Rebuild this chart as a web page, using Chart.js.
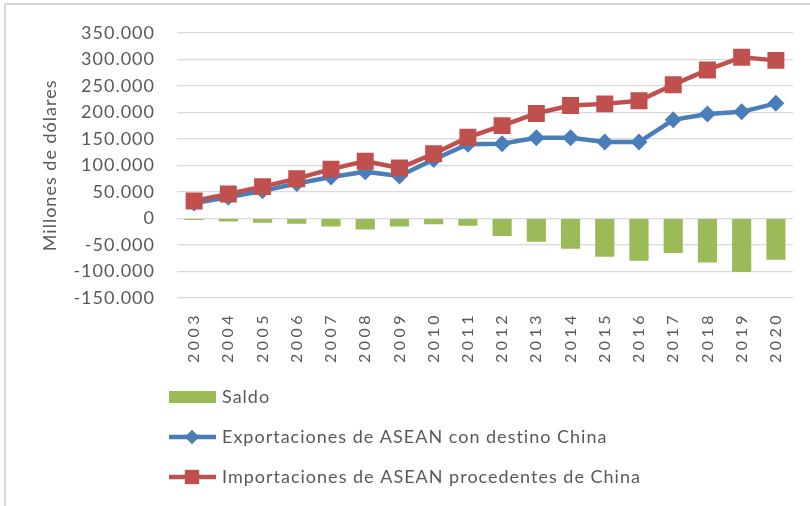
<!DOCTYPE html>
<html>
<head>
<meta charset="utf-8">
<script src="https://cdn.jsdelivr.net/npm/chart.js@4/dist/chart.umd.min.js"></script>
<style>
  html, body { margin: 0; padding: 0; background: #fff; }
  #wrap { width: 810px; height: 506px; position: relative; }
</style>
</head>
<body>
<div id="wrap"><canvas id="asean_chart" width="810" height="506"></canvas></div>
<script>
// years on the category axis
var years = ["2003","2004","2005","2006","2007","2008","2009","2010","2011",
             "2012","2013","2014","2015","2016","2017","2018","2019","2020"];

// values in millions of dollars
var saldo = [-3000, -6000, -8000, -10000, -15000, -21000, -15000, -11000, -14000,
             -33000, -44000, -57000, -72000, -80000, -65000, -83000, -101000, -78000];
var exportaciones = [29000, 40000, 52000, 66000, 78000, 88000, 80000, 111000, 140000,
                     141000, 152000, 152000, 144000, 144000, 186000, 197000, 201000, 217000];
var importaciones = [33000, 46000, 60000, 75000, 93000, 108000, 95000, 122000, 153000,
                     175000, 198000, 213000, 216000, 222000, 252000, 280000, 304000, 298000];

var y_min = -150000;
var y_max = 350000;
var y_step = 50000;

var text_color = "#595959";
var font_family = "Lato, 'Open Sans', sans-serif";

function fmt_miles(v){
	var s = Math.abs(v).toString().replace(/\B(?=(\d{3})+(?!\d))/g, ".");
	return (v < 0 ? "-" : "") + s;
}

// frame round the picture (left and top edges show)
var framePlugin = {
	id: "frame",
	beforeDraw: function(chart){
		var ctx = chart.ctx;
		ctx.fillStyle = "#fff";
		ctx.fillRect(0, 0, chart.width, chart.height);
		ctx.strokeStyle = "#d9d9d9";
		ctx.lineWidth = 2;
		ctx.strokeRect(5, 4, chart.width + 10, chart.height + 10);
		// slightly open text, like the original
		ctx.letterSpacing = "1px";
		// spaced year labels
		var xs = chart.scales.x;
		if (xs && !xs._spaced){
			var orig = xs.drawLabels;
			xs.drawLabels = function(area){
				this.ctx.save();
				this.ctx.letterSpacing = "3.5px";
				orig.call(this, area);
				this.ctx.restore();
			};
			xs._spaced = true;
		}
	}
};

// one legend row per series, below the axis
var legendPlugin = {
	id: "stackLegend",
	afterDraw: function(chart){
		var ctx = chart.ctx;
		var area = chart.chartArea;
		var x0 = area.left - 8;
		var y0 = area.bottom + 99;
		ctx.save();
		ctx.font = "18px " + font_family;
		ctx.letterSpacing = "1px";
		ctx.textBaseline = "middle";
		chart.data.datasets.forEach(function(ds, i){
			var y = y0 + i * 40;
			if (ds.type === "bar"){
				ctx.fillStyle = ds.backgroundColor;
				ctx.fillRect(x0, y - 6, 47, 12);
			} else {
				ctx.strokeStyle = ds.borderColor;
				ctx.lineWidth = ds.borderWidth;
				ctx.beginPath();
				ctx.moveTo(x0, y);
				ctx.lineTo(x0 + 47, y);
				ctx.stroke();
				Chart.helpers.drawPoint(ctx, {
					pointStyle: ds.pointStyle,
					radius: ds.pointStyle === "rect" ? 10 : 7,
					rotation: 0,
					borderWidth: 0
				}, x0 + 23, y);
				ctx.fillStyle = ds.borderColor;
				ctx.fill();
			}
			ctx.fillStyle = text_color;
			ctx.fillText(ds.label, x0 + 53, y);
		});
		ctx.restore();
	}
};

var ctx = document.getElementById("asean_chart");
var asean_chart = new Chart(ctx, {
	data: {
		labels: years,
		datasets: [
			{
				type: "bar",
				label: "Saldo",
				data: saldo,
				backgroundColor: "#9bbb59",
				barPercentage: 0.56,
				categoryPercentage: 1,
				order: 3
			},
			{
				type: "line",
				label: "Exportaciones de ASEAN con destino China",
				data: exportaciones,
				borderColor: "#4a7ebb",
				backgroundColor: "#4a7ebb",
				borderWidth: 4.5,
				pointStyle: "rectRot",
				pointRadius: 8.5,
				pointBorderWidth: 0,
				tension: 0,
				order: 2
			},
			{
				type: "line",
				label: "Importaciones de ASEAN procedentes de China",
				data: importaciones,
				borderColor: "#c0504d",
				backgroundColor: "#c0504d",
				borderWidth: 4.5,
				pointStyle: "rect",
				pointRadius: 12,
				pointBorderWidth: 0,
				tension: 0,
				order: 1
			}
		]
	},
	plugins: [framePlugin, legendPlugin],
	options: {
		responsive: false,
		animation: false,
		layout: { padding: { left: 4, right: 17, top: 30, bottom: 138 } },
		plugins: {
			legend: { display: false },
			tooltip: { enabled: false }
		},
		scales: {
			x: {
				offset: true,
				grid: { display: false, drawTicks: false },
				border: { display: false },
				ticks: {
					color: text_color,
					font: { family: font_family, size: 16 },
					minRotation: 90,
					maxRotation: 90,
					padding: 14,
					autoSkip: false
				},
				afterFit: function(scale){ scale.height = 70; }
			},
			y: {
				min: y_min,
				max: y_max,
				grid: { color: "#d9d9d9", lineWidth: 1.3, drawTicks: false },
				border: { display: false },
				ticks: {
					stepSize: y_step,
					color: text_color,
					font: { family: font_family, size: 18 },
					padding: 22,
					callback: function(v){ return fmt_miles(v); }
				},
				title: {
					display: true,
					text: "Millones de dólares",
					color: text_color,
					font: { family: font_family, size: 18 },
					padding: { top: 35, bottom: 0 }
				},
				afterFit: function(scale){ scale.width = 173; }
			}
		}
	}
});
</script>
</body>
</html>
